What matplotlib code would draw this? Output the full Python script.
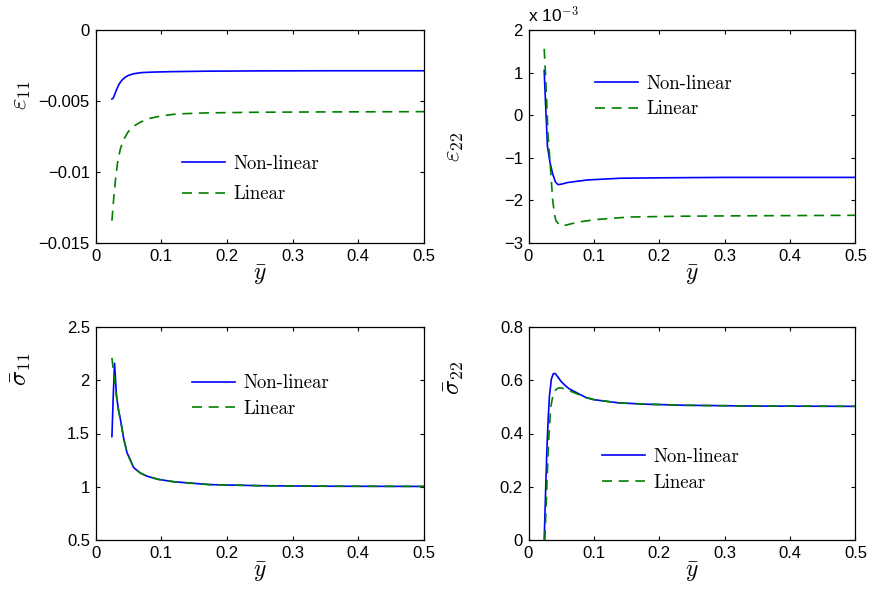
import matplotlib
matplotlib.use('Agg')
import matplotlib.pyplot as plt
from matplotlib.ticker import FuncFormatter

plt.rcParams['font.family'] = ['Liberation Sans', 'DejaVu Sans']
plt.rcParams['mathtext.fontset'] = 'cm'

# strain e11 (top left)
x_e11_nl = [0.025, 0.027, 0.030, 0.033, 0.036, 0.040, 0.045, 0.050, 0.058, 0.070, 0.090, 0.120, 0.170, 0.250, 0.350, 0.500]
e11_nl = [-0.00486, -0.00480, -0.00445, -0.00410, -0.00380, -0.00355, -0.00333, -0.00320, -0.00308, -0.00300,
          -0.00296, -0.00293, -0.00290, -0.00288, -0.00287, -0.00287]
x_e11_lin = [0.025, 0.028, 0.031, 0.034, 0.038, 0.043, 0.050, 0.058, 0.068, 0.081, 0.100, 0.124, 0.167, 0.250, 0.350, 0.500]
e11_lin = [-0.01343, -0.01170, -0.01030, -0.00920, -0.00835, -0.00771, -0.00715, -0.00678, -0.00650, -0.00624,
           -0.00605, -0.00591, -0.00584, -0.00579, -0.00577, -0.00575]

# strain e22 (top right), in units of 1e-3
x_e22_nl = [0.024, 0.026, 0.029, 0.033, 0.037, 0.041, 0.045, 0.050, 0.060, 0.075, 0.090, 0.115, 0.140, 0.200, 0.300, 0.500]
e22_nl = [1.05, 0.30, -0.74, -1.12, -1.38, -1.56, -1.63, -1.62, -1.58, -1.55, -1.52, -1.50, -1.48, -1.47, -1.46, -1.46]
x_e22_lin = [0.024, 0.026, 0.028, 0.030, 0.032, 0.035, 0.037, 0.040, 0.042, 0.047, 0.052, 0.065, 0.080, 0.103,
             0.154, 0.240, 0.350, 0.500]
e22_lin = [1.56, 0.95, 0.27, -0.50, -0.90, -1.55, -2.00, -2.35, -2.48, -2.57, -2.60, -2.55, -2.50, -2.45,
           -2.39, -2.37, -2.36, -2.35]

# stress s11 (bottom left)
x_s11_nl = [0.025, 0.027, 0.029, 0.032, 0.035, 0.038, 0.043, 0.048, 0.058, 0.068, 0.078, 0.095, 0.119, 0.174,
            0.250, 0.350, 0.500]
s11_nl = [1.47, 1.85, 2.16, 1.85, 1.72, 1.63, 1.45, 1.32, 1.18, 1.13, 1.10, 1.07, 1.047, 1.02, 1.010, 1.005, 1.003]
x_s11_lin = [0.025, 0.027, 0.029, 0.032, 0.035, 0.038, 0.043, 0.048, 0.058, 0.068, 0.078, 0.095, 0.119, 0.174,
             0.250, 0.350, 0.500]
s11_lin = [2.21, 2.10, 2.00, 1.85, 1.72, 1.63, 1.45, 1.32, 1.18, 1.13, 1.10, 1.07, 1.047, 1.02, 1.010, 1.005, 1.003]

# stress s22 (bottom right)
x_s22_nl = [0.024, 0.026, 0.028, 0.030, 0.032, 0.035, 0.038, 0.041, 0.045, 0.050, 0.055, 0.062, 0.070, 0.080,
            0.088, 0.100, 0.138, 0.180, 0.240, 0.350, 0.500]
s22_nl = [0.0, 0.17, 0.33, 0.45, 0.54, 0.605, 0.625, 0.625, 0.612, 0.595, 0.583, 0.568, 0.558, 0.545,
          0.535, 0.527, 0.515, 0.510, 0.506, 0.503, 0.502]
x_s22_lin = [0.025, 0.027, 0.029, 0.031, 0.034, 0.038, 0.042, 0.046, 0.050, 0.058, 0.065, 0.075, 0.088, 0.100,
             0.138, 0.180, 0.240, 0.350, 0.500]
s22_lin = [0.0, 0.13, 0.265, 0.38, 0.50, 0.55, 0.565, 0.571, 0.571, 0.565, 0.558, 0.548, 0.535, 0.527,
           0.515, 0.510, 0.506, 0.503, 0.502]

x_ticks = [0, 0.1, 0.2, 0.3, 0.4, 0.5]
labels = ['Non-linear', 'Linear']


def fmt(v, pos):
    return ('%g' % v).replace('-', '\u2212')


fig = plt.figure(figsize=(8.74, 5.91), dpi=100)
W, H = 874.0, 591.0

# pixel boxes: left, top, width, height
boxes = [(95.5, 30, 328.5, 213), (528.5, 30, 327, 213),
         (95.5, 327, 328.5, 213), (528.5, 327, 327, 213)]
data = [(x_e11_nl, e11_nl, x_e11_lin, e11_lin),
        (x_e22_nl, e22_nl, x_e22_lin, e22_lin),
        (x_s11_nl, s11_nl, x_s11_lin, s11_lin),
        (x_s22_nl, s22_nl, x_s22_lin, s22_lin)]
ylims = [(-0.015, 0), (-3, 2), (0.5, 2.5), (0, 0.8)]
yticks = [[-0.015, -0.01, -0.005, 0], [-3, -2, -1, 0, 1, 2],
          [0.5, 1, 1.5, 2, 2.5], [0, 0.2, 0.4, 0.6, 0.8]]
ylabels = [r'$\varepsilon_{11}$', r'$\varepsilon_{22}$', r'$\bar{\sigma}_{11}$', r'$\bar{\sigma}_{22}$']
ylab_pos = [(-0.19, 0.695), (-0.19, 0.45), (-0.19, 0.80), (-0.19, 0.76)]
leg_pos = [(0.263, 0.415), (0.203, 0.79), (0.294, 0.778), (0.225, 0.433)]
leg_space = [0.69, 0.42, 0.42, 0.45]

for i in range(4):
    l, t, w, h = boxes[i]
    ax = fig.add_axes([l / W, 1 - (t + h) / H, w / W, h / H])
    xn, yn, xl, yl = data[i]
    ax.plot(xn, yn, '-', color='#0000ff', lw=1.2, label=labels[0])
    ax.plot(xl, yl, color='#008000', lw=1.2, ls=(0, (6, 4)), label=labels[1])
    ax.set_xlim(0, 0.5)
    ax.set_ylim(*ylims[i])
    ax.set_xticks(x_ticks)
    ax.set_yticks(yticks[i])
    ax.xaxis.set_major_formatter(FuncFormatter(fmt))
    ax.yaxis.set_major_formatter(FuncFormatter(fmt))
    ax.tick_params(direction='in', length=3, width=0.8, top=True, right=True, labelsize=12, pad=4)
    for s in ax.spines.values():
        s.set_linewidth(0.9)
    ax.set_xlabel(r'$\bar{y}$', fontsize=17, labelpad=0)
    ax.set_ylabel(ylabels[i], fontsize=18)
    ax.yaxis.set_label_coords(*ylab_pos[i])
    ax.legend(loc='upper left', bbox_to_anchor=leg_pos[i], frameon=False,
              borderpad=0, borderaxespad=0, handlelength=2.3, handletextpad=0.45,
              labelspacing=leg_space[i], prop={'family': 'cmr10', 'size': 13.5})
    if i == 1:
        ax.text(0.0, 1.02, r'x 10$^{-3}$', transform=ax.transAxes, fontsize=12.5, va='bottom')

fig.savefig('out.png', dpi=100)
